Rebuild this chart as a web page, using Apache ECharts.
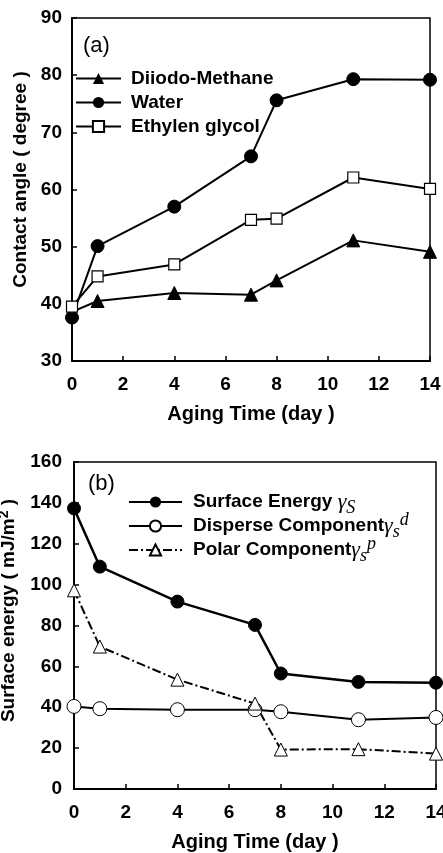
<!DOCTYPE html>
<html>
<head>
    <meta charset="utf-8">
    <title>Contact angle / surface energy</title>
    <script src="https://cdn.jsdelivr.net/npm/echarts@6/dist/echarts.min.js"></script>
</head>
<body style="margin:0">
<div id="main" style="width:443px;height:853px;"></div>
<script type="text/javascript">
// aging time (day)
var days = [0, 1, 4, 7, 8, 11, 14];
var xTicks = [0, 2, 4, 6, 8, 10, 12, 14];

// (a) contact angle, degree
var diiodo = [38.6, 40.5, 41.9, 41.6, 44.1, 51.1, 49.1];
var water = [37.6, 50.1, 57.0, 65.8, 75.6, 79.3, 79.2];
var glycol = [39.5, 44.8, 46.9, 54.7, 54.9, 62.1, 60.1];

// (b) surface energy, mJ/m2
var surface = [137.3, 108.8, 91.7, 80.3, 56.5, 52.4, 52.0];
var disperse = [40.4, 39.3, 38.8, 38.8, 37.8, 33.9, 35.0];
var polar = [97.2, 69.7, 53.5, 41.8, 19.3, 19.5, 17.3];

function pairs(ys) {
    return days.map(function (d, i) { return [d, ys[i]]; });
}

var font = 'Arial, "Liberation Sans", sans-serif';
var lbl = { color: '#000', fontFamily: font, fontWeight: 'bold', fontSize: 19 };

function xAx(idx) {
    return {
        gridIndex: idx, type: 'value', min: 0, max: 14, interval: 2,
        name: 'Aging Time (day )', nameLocation: 'middle', nameGap: 43,
        nameTextStyle: Object.assign({}, lbl, { fontSize: 20 }),
        axisLine: { lineStyle: { color: '#000', width: 2 } },
        axisTick: { inside: true, length: 5, lineStyle: { color: '#000', width: 1.5 } },
        axisLabel: Object.assign({ margin: 14 }, lbl),
        splitLine: { show: false }
    };
}

var serif = '"Liberation Serif", "DejaVu Serif", serif';
var rich = {
    g: { fontFamily: serif, fontStyle: 'italic', fontWeight: 'normal', fontSize: 22, color: '#000', lineHeight: 30, verticalAlign: 'middle' },
    sub: { fontFamily: serif, fontStyle: 'italic', fontWeight: 'normal', fontSize: 18, color: '#000', verticalAlign: 'bottom', lineHeight: 30 },
    sup: { fontFamily: serif, fontStyle: 'italic', fontWeight: 'normal', fontSize: 18, color: '#000', verticalAlign: 'top', lineHeight: 30 }
};

var bLabels = {
    'Surface Energy': 'Surface Energy {g|γ}{sub|S}',
    'Disperse Component': 'Disperse Component{g|γ}{sub|s}{sup|d}',
    'Polar Component': 'Polar Component{g|γ}{sub|s}{sup|p}'
};

var option = {
    animation: false,
    backgroundColor: '#fff',
    grid: [
        { left: 72, top: 18, width: 358, height: 343, show: true, borderColor: '#000', borderWidth: 1.5, outerBoundsMode: 'none' },
        { left: 74, top: 462, width: 362, height: 327, show: true, borderColor: '#000', borderWidth: 1.5, outerBoundsMode: 'none' }
    ],
    xAxis: [xAx(0), xAx(1)],
    yAxis: [
        {
            gridIndex: 0, type: 'value', min: 30, max: 90, interval: 10,
            name: 'Contact angle ( degree )', nameLocation: 'middle', nameGap: 39,
            nameTextStyle: Object.assign({}, lbl, { fontSize: 19, padding: [0, 0, 0, 20] }),
            axisLine: { lineStyle: { color: '#000', width: 2 } },
            axisTick: { show: true, inside: true, length: 5, lineStyle: { color: '#000', width: 1.5 } },
            axisLabel: Object.assign({ margin: 10 }, lbl),
            splitLine: { show: false }
        },
        {
            gridIndex: 1, type: 'value', min: 0, max: 160, interval: 20,
            name: 'Surface energy ( mJ/m{sup|2} )', nameLocation: 'middle', nameGap: 53,
            nameTextStyle: Object.assign({}, lbl, {
                fontSize: 19, padding: [0, 0, 0, 30],
                rich: { sup: { color: '#000', fontFamily: font, fontWeight: 'bold', fontSize: 14, verticalAlign: 'top', lineHeight: 24 } }
            }),
            axisLine: { lineStyle: { color: '#000', width: 2 } },
            axisTick: { show: true, inside: true, length: 5, lineStyle: { color: '#000', width: 1.5 } },
            axisLabel: Object.assign({ margin: 12 }, lbl),
            splitLine: { show: false }
        }
    ],
    legend: [
        {
            orient: 'vertical', left: 70, top: 64,
            data: ['Diiodo-Methane', 'Water', 'Ethylen glycol'],
            itemWidth: 45, itemHeight: 14, itemGap: 5,
            textStyle: { color: '#000', fontFamily: font, fontWeight: 'bold', fontSize: 19, padding: [0, 0, 0, 5] }
        },
        {
            orient: 'vertical', left: 123, top: 486,
            data: ['Surface Energy', 'Disperse Component', 'Polar Component'],
            itemWidth: 53, itemHeight: 14, itemGap: -6,
            formatter: function (n) { return bLabels[n]; },
            textStyle: { color: '#000', fontFamily: font, fontWeight: 'bold', fontSize: 19, padding: [0, 0, 0, 6], rich: rich }
        }
    ],
    graphic: [
        { type: 'text', left: 83, top: 35, style: { text: '(a)', fontSize: 22, fontFamily: font, fill: '#000' } },
        { type: 'text', left: 88, top: 473, style: { text: '(b)', fontSize: 22, fontFamily: font, fill: '#000' } }
    ],
    series: [
        {
            name: 'Diiodo-Methane', type: 'line', xAxisIndex: 0, yAxisIndex: 0, data: pairs(diiodo),
            symbol: 'triangle', symbolSize: 13,
            lineStyle: { color: '#000', width: 2 }, itemStyle: { color: '#000', borderColor: '#000' }
        },
        {
            name: 'Water', type: 'line', xAxisIndex: 0, yAxisIndex: 0, data: pairs(water),
            symbol: 'circle', symbolSize: 13,
            lineStyle: { color: '#000', width: 2 }, itemStyle: { color: '#000', borderColor: '#000' }
        },
        {
            name: 'Ethylen glycol', type: 'line', xAxisIndex: 0, yAxisIndex: 0, data: pairs(glycol),
            symbol: 'rect', symbolSize: 11,
            lineStyle: { color: '#000', width: 2 }, itemStyle: { color: '#fff', borderColor: '#000', borderWidth: 1.2 }
        },
        {
            name: 'Surface Energy', type: 'line', xAxisIndex: 1, yAxisIndex: 1, data: pairs(surface),
            symbol: 'circle', symbolSize: 13,
            lineStyle: { color: '#000', width: 2.5 }, itemStyle: { color: '#000', borderColor: '#000' }
        },
        {
            name: 'Disperse Component', type: 'line', xAxisIndex: 1, yAxisIndex: 1, data: pairs(disperse),
            symbol: 'circle', symbolSize: 14,
            lineStyle: { color: '#000', width: 2 }, itemStyle: { color: '#fff', borderColor: '#000', borderWidth: 1 }
        },
        {
            name: 'Polar Component', type: 'line', xAxisIndex: 1, yAxisIndex: 1, data: pairs(polar),
            symbol: 'triangle', symbolSize: 13, z: 3,
            lineStyle: { color: '#000', width: 2, type: [9, 3, 2, 3] }, itemStyle: { color: '#fff', borderColor: '#000', borderWidth: 1 }
        }
    ]
};

var chart = echarts.init(document.getElementById('main'));
chart.setOption(option);
</script>
</body>
</html>
